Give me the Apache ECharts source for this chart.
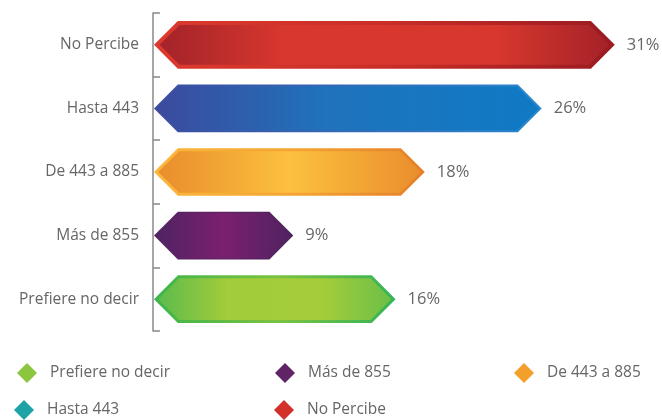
<!DOCTYPE html>
<html>
<head>
<meta charset="utf-8">
<script src="https://cdn.jsdelivr.net/npm/echarts@6/dist/echarts.min.js"></script>
<style>
  html, body { margin: 0; padding: 0; background: #ffffff; }
  #chart { width: 662px; height: 420px; }
</style>
</head>
<body>
<div id="chart"></div>
<script>
// categorias de arriba a abajo
var categories = ['No Percibe', 'Hasta 443', 'De 443 a 885', 'Más de 855', 'Prefiere no decir'];
var values = [31, 26, 18, 9, 16];
// orden de la leyenda
var legendOrder = ['Prefiere no decir', 'Más de 855', 'De 443 a 885', 'Hasta 443', 'No Percibe'];

var xMin = -0.6;
var font = '"Open Sans", "Noto Sans", sans-serif';

function grad(stops) {
  return new echarts.graphic.LinearGradient(0, 0, 1, 0, stops.map(function (s) {
    return { offset: s[0], color: s[1] };
  }));
}

// estilo de cada barra: borde, relleno y color de leyenda
var styles = {
  'No Percibe': {
    border: 4,
    stroke: [[0, '#dc3a2d'], [0.5, '#c92e28'], [1, '#9a1b21']],
    fill: [[0, '#a3232a'], [0.28, '#d8372d'], [0.75, '#d8372d'], [1, '#a52228']],
    legend: '#d3302a'
  },
  'Hasta 443': {
    border: 2,
    stroke: [[0, '#3d4da0'], [1, '#2a88cc']],
    fill: [[0, '#3c4a9d'], [0.45, '#1f73bc'], [1, '#0f7ac5']],
    legend: '#1ea3a6'
  },
  'De 443 a 885': {
    border: 3,
    stroke: [[0, '#fbb73a'], [0.5, '#f4a534'], [1, '#e58029']],
    fill: [[0, '#e98d2d'], [0.5, '#fcc13e'], [1, '#ea8e2d']],
    legend: '#f3a02a'
  },
  'Más de 855': {
    border: 1,
    stroke: [[0, '#5a2462'], [1, '#4b2159']],
    fill: [[0, '#4e2461'], [0.5, '#7b1f6f'], [1, '#4f2360']],
    legend: '#5e2466'
  },
  'Prefiere no decir': {
    border: 3,
    stroke: [[0, '#3cb54a'], [0.5, '#7cc142'], [1, '#35b456']],
    fill: [[0, '#5dbb4c'], [0.3, '#a3cc3a'], [0.7, '#a5cd3a'], [1, '#6dbf48']],
    legend: '#8cc63f'
  }
};

function hexPoints(x0, x1, yc, h) {
  return [
    [x0, yc], [x0 + h, yc - h], [x1 - h, yc - h],
    [x1, yc], [x1 - h, yc + h], [x0 + h, yc + h]
  ];
}

function makeSeries(i) {
  var name = categories[i];
  var st = styles[name];
  return {
    name: name,
    type: 'custom',
    encode: { x: 0, y: 1 },
    itemStyle: { color: st.legend },
    data: [[values[i], i]],
    renderItem: function (params, api) {
      var v = api.value(0);
      var cat = api.value(1);
      var start = api.coord([xMin, cat]);
      var end = api.coord([v, cat]);
      var h = api.size([0, 1])[1] * 0.375;
      var b = st.border;
      var bi = b * Math.SQRT2;
      return {
        type: 'group',
        children: [
          {
            type: 'polygon',
            shape: { points: hexPoints(start[0] + 1, end[0], start[1], h) },
            style: { fill: grad(st.stroke) }
          },
          {
            type: 'polygon',
            shape: { points: hexPoints(start[0] + 1 + bi, end[0] - bi, start[1], h - b) },
            style: { fill: grad(st.fill) }
          },
          {
            type: 'text',
            style: {
              text: v + '%',
              x: end[0] + 12,
              y: end[1],
              verticalAlign: 'middle',
              fill: '#666',
              fontSize: 16.5,
              fontFamily: font
            }
          }
        ]
      };
    }
  };
}

var legendPos = [
  { left: 17, top: 363 },
  { left: 275, top: 363 },
  { left: 514, top: 363 },
  { left: 14, top: 400 },
  { left: 274, top: 400 }
];

var myChart = echarts.init(document.getElementById('chart'));
myChart.setOption({
  animation: false,
  grid: { left: 153, right: 18, top: 13, bottom: 89 },
  xAxis: {
    type: 'value',
    min: xMin,
    max: 33,
    show: false
  },
  yAxis: {
    type: 'category',
    inverse: true,
    data: categories,
    axisLine: { onZero: false, lineStyle: { color: '#888', width: 1.5 } },
    axisTick: { show: true, inside: true, length: 7, lineStyle: { color: '#888', width: 1.5 } },
    axisLabel: { margin: 14, color: '#666', fontSize: 15.5, fontFamily: font }
  },
  legend: legendOrder.map(function (name, k) {
    return {
      left: legendPos[k].left,
      top: legendPos[k].top,
      padding: 0,
      itemWidth: 20,
      itemHeight: 20,
      textStyle: { color: '#666', fontSize: 15.5, fontFamily: font, padding: [0, 0, 0, 8] },
      data: [{ name: name, icon: 'diamond', itemStyle: { color: styles[name].legend } }]
    };
  }),
  series: categories.map(function (c, i) { return makeSeries(i); })
});

window.addEventListener('resize', function () {
  myChart.resize();
});
</script>
</body>
</html>
